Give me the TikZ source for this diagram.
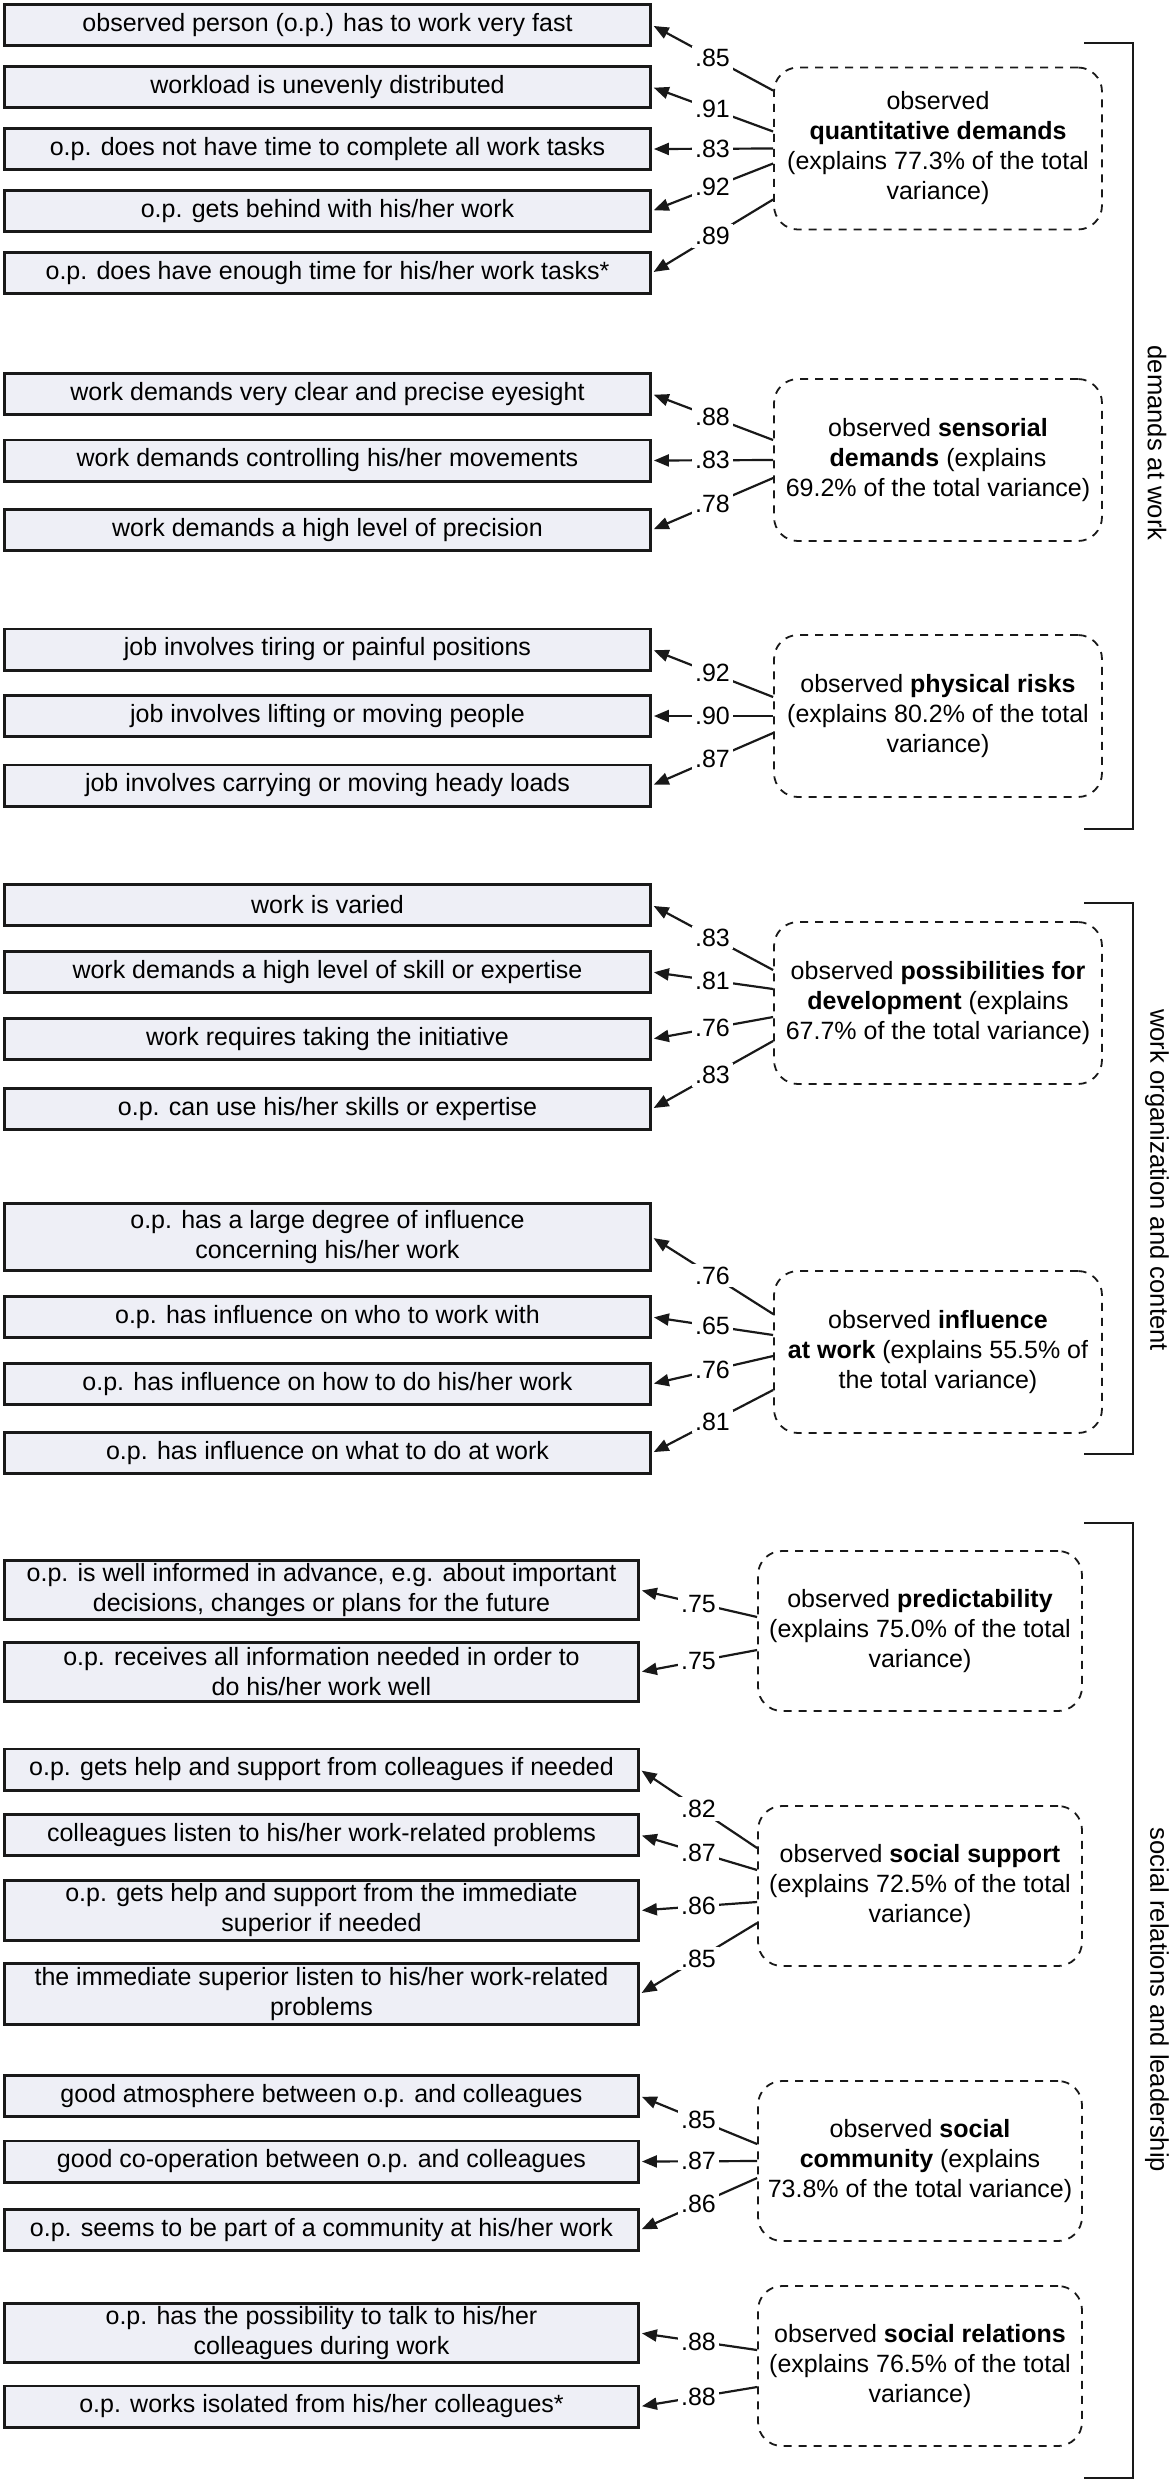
\documentclass[tikz,border=0pt]{standalone}
\usepackage{fontspec}
\setmainfont{Liberation Sans}
\usetikzlibrary{arrows.meta}
\definecolor{boxfill}{RGB}{238,239,246}
\definecolor{edge}{RGB}{25,25,25}
\begin{document}
\begin{tikzpicture}[x=0.5pt,y=-0.5pt,
  font=\fontsize{12.5}{15}\selectfont,
  ibox/.style={draw=edge, line width=1.4pt, fill=boxfill, align=center, inner sep=0pt, minimum width=323pt, minimum height=20.6pt},
  sbox/.style={ibox, minimum width=317pt},
  latent/.style={draw=edge, line width=0.9pt, dash pattern=on 4pt off 3.5pt, rounded corners=12pt, align=center, minimum width=164pt, minimum height=81pt, inner sep=0pt},
  slatent/.style={latent, minimum width=162pt, minimum height=80pt},
  arr/.style={draw=edge, line width=1.1pt, -{Triangle[length=7.5pt,width=6pt]}, shorten >=1pt},
  lbl/.style={fill=white, inner sep=1.5pt, pos=0.5},
  brk/.style={draw=edge, line width=1pt},
  grp/.style={rotate=-90, font=\fontsize{12.8}{15}\selectfont}
]
\useasboundingbox (0,0) rectangle (1173,2481);

% ---------- indicator boxes (upper) ----------
\node[ibox] (a1) at (327.5,25) {observed person (o.p.) has to work very fast};
\node[ibox] (a2) at (327.5,87) {workload is unevenly distributed};
\node[ibox] (a3) at (327.5,149) {o.p. does not have time to complete all work tasks};
\node[ibox] (a4) at (327.5,211) {o.p. gets behind with his/her work};
\node[ibox] (a5) at (327.5,273) {o.p. does have enough time for his/her work tasks*};
\node[ibox] (b1) at (327.5,394) {work demands very clear and precise eyesight};
\node[ibox] (b2) at (327.5,460.5) {work demands controlling his/her movements};
\node[ibox] (b3) at (327.5,530) {work demands a high level of precision};
\node[ibox] (c1) at (327.5,649.5) {job involves tiring or painful positions};
\node[ibox] (c2) at (327.5,716) {job involves lifting or moving people};
\node[ibox] (c3) at (327.5,785.5) {job involves carrying or moving heady loads};
\node[ibox] (d1) at (327.5,905) {work is varied};
\node[ibox] (d2) at (327.5,972) {work demands a high level of skill or expertise};
\node[ibox] (d3) at (327.5,1039) {work requires taking the initiative};
\node[ibox] (d4) at (327.5,1109) {o.p. can use his/her skills or expertise};
\node[ibox, minimum height=33.5pt] (e1) at (327.5,1237) {o.p. has a large degree of influence\\concerning his/her work};
\node[ibox] (e2) at (327.5,1317) {o.p. has influence on who to work with};
\node[ibox] (e3) at (327.5,1384) {o.p. has influence on how to do his/her work};
\node[ibox] (e4) at (327.5,1453) {o.p. has influence on what to do at work};

% ---------- indicator boxes (lower) ----------
\node[sbox, minimum height=29.6pt] (f1) at (321.5,1590) {o.p. is well informed in advance, e.g. about important\\decisions, changes or plans for the future};
\node[sbox, minimum height=29.6pt] (f2) at (321.5,1672) {o.p. receives all information needed in order to\\do his/her work well};
\node[sbox] (g1) at (321.5,1769.5) {o.p. gets help and support from colleagues if needed};
\node[sbox] (g2) at (321.5,1835) {colleagues listen to his/her work-related problems};
\node[sbox, minimum height=30pt] (g3) at (321.5,1910.5) {o.p. gets help and support from the immediate\\superior if needed};
\node[sbox, minimum height=30.5pt] (g4) at (321.5,1994) {the immediate superior listen to his/her work-related\\problems};
\node[sbox] (h1) at (321.5,2096) {good atmosphere between o.p. and colleagues};
\node[sbox] (h2) at (321.5,2161.5) {good co-operation between o.p. and colleagues};
\node[sbox] (h3) at (321.5,2230) {o.p. seems to be part of a community at his/her work};
\node[sbox, minimum height=29.6pt] (i1) at (321.5,2333) {o.p. has the possibility to talk to his/her\\colleagues during work};
\node[sbox] (i2) at (321.5,2406.5) {o.p. works isolated from his/her colleagues*};

% ---------- latent factors ----------
\node[latent] (L1) at (938,148.5) {observed\\\textbf{quantitative demands}\\(explains 77.3\% of the total\\variance)};
\node[latent] (L2) at (938,460) {observed \textbf{sensorial}\\\textbf{demands} (explains\\69.2\% of the total variance)};
\node[latent] (L3) at (938,716) {observed \textbf{physical risks}\\(explains 80.2\% of the total\\variance)};
\node[latent] (L4) at (938,1003) {observed \textbf{possibilities for}\\\textbf{development} (explains\\67.7\% of the total variance)};
\node[latent] (L5) at (938,1352) {observed \textbf{influence}\\\textbf{at work} (explains 55.5\% of\\the total variance)};
\node[slatent] (L6) at (920,1631) {observed \textbf{predictability}\\(explains 75.0\% of the total\\variance)};
\node[slatent] (L7) at (920,1886) {observed \textbf{social support}\\(explains 72.5\% of the total\\variance)};
\node[slatent] (L8) at (920,2161) {observed \textbf{social}\\\textbf{community} (explains\\73.8\% of the total variance)};
\node[slatent] (L9) at (920,2366) {observed \textbf{social relations}\\(explains 76.5\% of the total\\variance)};

% ---------- loadings ----------
\draw[arr] ([yshift=29pt]L1.west) -- node[lbl]{.85} (a1.east);
\draw[arr] ([yshift=8.5pt]L1.west) -- node[lbl]{.91} (a2.east);
\draw[arr] (L1.west) -- node[lbl]{.83} (a3.east);
\draw[arr] ([yshift=-7.5pt]L1.west) -- node[lbl]{.92} (a4.east);
\draw[arr] ([yshift=-25.5pt]L1.west) -- node[lbl]{.89} (a5.east);

\draw[arr] ([yshift=10pt]L2.west) -- node[lbl]{.88} (b1.east);
\draw[arr] (L2.west) -- node[lbl]{.83} (b2.east);
\draw[arr] ([yshift=-9pt]L2.west) -- node[lbl]{.78} (b3.east);

\draw[arr] ([yshift=9.5pt]L3.west) -- node[lbl]{.92} (c1.east);
\draw[arr] (L3.west) -- node[lbl]{.90} (c2.east);
\draw[arr] ([yshift=-8.5pt]L3.west) -- node[lbl]{.87} (c3.east);

\draw[arr] ([yshift=16.5pt]L4.west) -- node[lbl]{.83} (d1.east);
\draw[arr] ([yshift=7pt]L4.west) -- node[lbl]{.81} (d2.east);
\draw[arr] ([yshift=-7pt]L4.west) -- node[lbl]{.76} (d3.east);
\draw[arr] ([yshift=-19pt]L4.west) -- node[lbl]{.83} (d4.east);

\draw[arr] ([yshift=19pt]L5.west) -- node[lbl]{.76} (e1.east);
\draw[arr] ([yshift=8.5pt]L5.west) -- node[lbl]{.65} (e2.east);
\draw[arr] ([yshift=-2pt]L5.west) -- node[lbl]{.76} (e3.east);
\draw[arr] ([yshift=-19pt]L5.west) -- node[lbl]{.81} (e4.east);

\draw[arr] ([yshift=7pt]L6.west) -- node[lbl]{.75} (f1.east);
\draw[arr] ([yshift=-9.5pt]L6.west) -- node[lbl]{.75} (f2.east);

\draw[arr] ([yshift=19pt]L7.west) -- node[lbl]{.82} (g1.east);
\draw[arr] ([yshift=8pt]L7.west) -- node[lbl]{.87} (g2.east);
\draw[arr] ([yshift=-8pt]L7.west) -- node[lbl]{.86} (g3.east);
\draw[arr] ([yshift=-18.5pt]L7.west) -- node[lbl]{.85} (g4.east);

\draw[arr] ([yshift=8.5pt]L8.west) -- node[lbl]{.85} (h1.east);
\draw[arr] (L8.west) -- node[lbl]{.87} (h2.east);
\draw[arr] ([yshift=-8.5pt]L8.west) -- node[lbl]{.86} (h3.east);

\draw[arr] ([yshift=8pt]L9.west) -- node[lbl]{.88} (i1.east);
\draw[arr] ([yshift=-10.5pt]L9.west) -- node[lbl]{.88} (i2.east);

% ---------- brackets ----------
\draw[brk] (1084,43) -- (1133,43) -- (1133,829) -- (1084,829);
\draw[brk] (1084,903) -- (1133,903) -- (1133,1454) -- (1084,1454);
\draw[brk] (1084,1523) -- (1133,1523) -- (1133,2478) -- (1084,2478);
\node[grp] (G1) at (1157,443) {demands at work};
\node[grp] (G2) at (1157,1180) {work organization and content};
\node[grp] (G3) at (1157,2000) {social relations and leadership};
\end{tikzpicture}
\end{document}
